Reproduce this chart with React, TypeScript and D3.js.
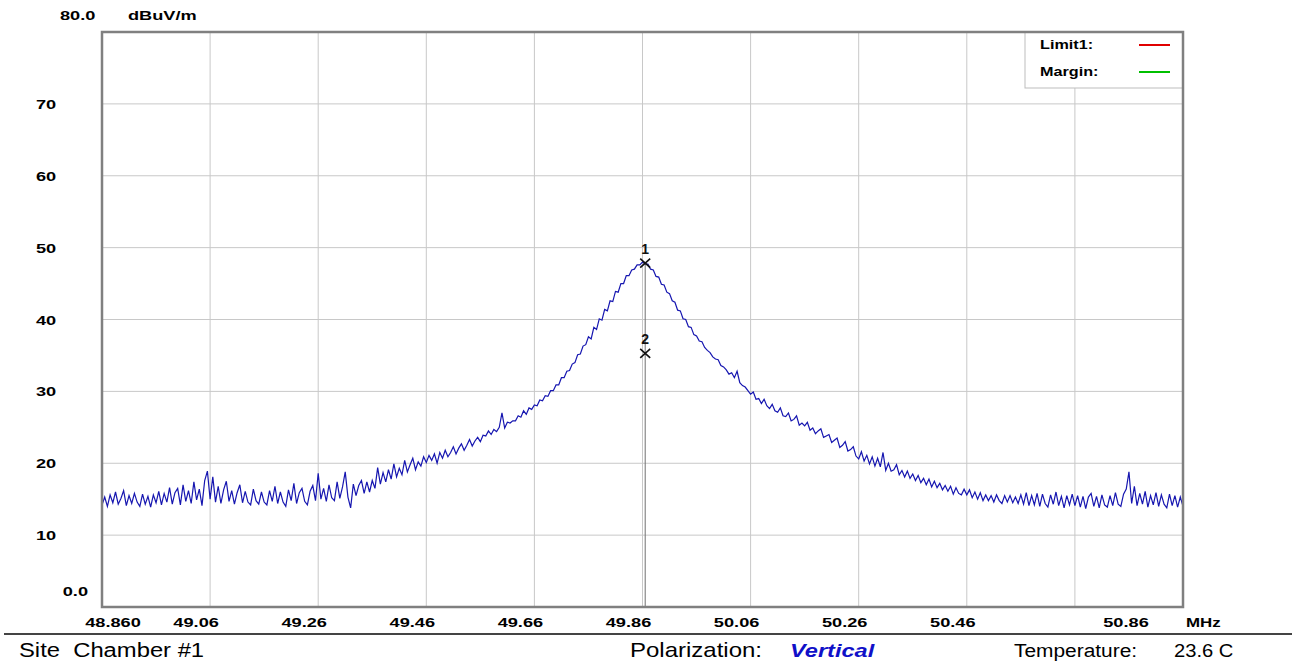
import React from 'react';
import * as d3 from 'd3';

// Sweep: start frequency and step (MHz)
const F_START = 48.86;
const F_STEP = 0.005;

const LEVELS: number[] = [
  14.2, 15.3, 14.0, 15.6, 14.5, 16.0, 14.3, 15.1, 16.2, 14.1, 15.5, 14.4, 15.8, 14.6, 14.0, 15.7, 14.3, 15.4, 13.9, 15.6,
  14.5, 16.1, 14.2, 15.8, 14.6, 16.6, 14.3, 15.9, 16.5, 14.2, 17.0, 14.7, 16.2, 14.4, 17.4, 14.9, 16.4, 14.1, 17.6, 18.9,
  15.0, 18.1, 14.6, 16.8, 14.4, 16.3, 17.5, 14.7, 16.2, 14.3, 15.9, 17.0, 14.5, 16.1, 14.6, 14.2, 16.4, 14.8, 14.3, 16.0,
  14.6, 14.2, 16.2, 14.7, 16.8, 14.4, 16.0, 14.6, 14.0, 16.3, 14.8, 17.2, 14.4, 15.9, 16.5, 14.7, 14.2, 16.1, 16.9, 14.8,
  18.6, 15.0, 16.5, 14.7, 17.0, 15.2, 14.8, 17.4, 15.1, 16.7, 18.8, 15.3, 13.8, 17.1, 15.5, 16.9, 17.6, 15.8, 17.4, 16.0,
  17.6, 16.5, 19.4, 17.1, 18.7, 17.4, 19.1, 17.8, 19.9, 18.1, 19.3, 18.4, 20.4, 18.8, 19.8, 20.7, 19.1, 20.2, 19.6, 20.9,
  20.1, 21.1, 20.4, 21.3, 20.0, 21.5, 20.7, 21.8, 20.9, 21.5, 22.3, 21.3, 22.1, 22.7, 21.8, 22.5, 23.3, 22.4, 23.1, 23.6,
  23.0, 23.9, 23.8, 24.5, 24.0, 24.7, 24.4, 25.0, 27.0, 24.9, 25.7, 25.6, 25.9, 25.9, 26.6, 26.4, 27.3, 26.8, 27.7, 27.5,
  28.1, 28.0, 28.8, 28.7, 29.4, 29.3, 30.1, 30.1, 30.9, 30.9, 31.9, 31.9, 32.8, 32.9, 33.8, 34.0, 35.1, 35.2, 36.3, 36.5,
  37.6, 37.3, 38.9, 38.6, 40.1, 39.9, 41.4, 41.2, 42.6, 42.5, 43.9, 43.8, 45.0, 45.0, 46.1, 46.1, 46.9, 47.0, 47.6, 47.6,
  48.0, 47.7, 47.7, 47.0, 46.9, 46.0, 45.9, 44.9, 44.8, 43.8, 43.6, 42.6, 42.4, 41.3, 41.2, 40.1, 40.0, 39.0, 38.9, 37.9,
  37.7, 37.0, 36.9, 36.1, 35.7, 35.4, 34.8, 34.5, 34.4, 33.6, 33.4, 33.0, 32.4, 32.6, 31.9, 32.8, 31.2, 30.8, 30.6, 30.1,
  29.6, 29.9, 28.9, 29.0, 28.3, 28.9, 28.0, 27.6, 28.2, 27.3, 27.1, 27.7, 26.6, 26.5, 27.0, 25.9, 26.1, 26.6, 25.3, 25.6,
  25.2, 25.7, 24.6, 24.9, 24.1, 24.5, 24.8, 23.6, 23.8, 24.0, 22.9, 23.2, 23.5, 22.2, 22.5, 23.0, 21.7, 21.9, 22.3, 21.0,
  20.6, 21.6, 20.3, 21.1, 19.9, 20.9, 19.6, 20.7, 19.5, 21.5, 19.0, 20.0, 18.9, 19.1, 19.8, 18.4, 19.0, 18.1, 18.9, 17.9,
  18.5, 17.6, 18.3, 17.3, 17.9, 17.0, 17.8, 16.7, 17.5, 16.6, 17.2, 16.3, 16.9, 16.1, 16.8, 15.7, 16.6, 15.8, 15.6, 16.4,
  15.6, 16.3, 15.2, 16.0, 15.0, 15.9, 14.8, 15.6, 14.8, 15.5, 14.6, 15.6, 14.8, 14.4, 15.5, 14.6, 15.5, 14.5, 15.3, 14.4,
  15.6, 14.3, 15.9, 14.1, 15.5, 14.2, 15.8, 14.0, 15.7, 14.4, 13.9, 15.6, 14.3, 16.0, 14.1, 15.4, 13.8, 15.5, 14.2, 15.7,
  14.1, 15.5, 13.9, 15.4, 13.7, 15.3, 15.8, 14.0, 15.4, 13.8, 15.6, 14.2, 13.9, 15.5, 14.1, 15.9, 14.3, 14.0, 15.7, 16.4,
  18.8, 14.4, 16.8, 14.1, 15.8, 14.3, 16.1, 13.9, 15.5, 14.2, 15.9, 14.0, 15.6, 14.3, 13.8, 15.7, 14.1, 15.5, 13.9, 15.3,
  14.0,
];

const X_DOMAIN: [number, number] = [48.86, 50.86];
const Y_DOMAIN: [number, number] = [0, 80];
const X_GRID = [49.06, 49.26, 49.46, 49.66, 49.86, 50.06, 50.26, 50.46, 50.66];
const X_LABELS = [49.06, 49.26, 49.46, 49.66, 49.86, 50.06, 50.26, 50.46];
const Y_GRID = [10, 20, 30, 40, 50, 60, 70];
const Y_LABELS = [10, 20, 30, 40, 50, 60, 70];

const MARKERS = [
  { id: '1', f: 49.865, v: 47.85 },
  { id: '2', f: 49.865, v: 35.3 },
];

const LEGEND = [
  { label: 'Limit1:', color: '#e00000' },
  { label: 'Margin:', color: '#00c000' },
];

const FOOTER = {
  site: 'Site  Chamber #1',
  polLabel: 'Polarization:',
  polValue: 'Vertical',
  tempLabel: 'Temperature:',
  tempValue: '23.6 C',
};

const W = 1292;
const H = 665;
const M = { left: 102, right: 1183, top: 32, bottom: 607 };

const AXIS_FONT = '"Liberation Sans", Arial, sans-serif';

function SText(props: {
  x: number;
  y: number;
  sx?: number;
  size: number;
  weight?: string | number;
  anchor?: 'start' | 'middle' | 'end';
  fill?: string;
  italic?: boolean;
  children: React.ReactNode;
}) {
  const { x, y, sx = 1, size, weight = 'normal', anchor = 'start', fill = '#000', italic } = props;
  return (
    <text
      transform={`translate(${x},${y}) scale(${sx},1)`}
      fontFamily={AXIS_FONT}
      fontSize={size}
      fontWeight={weight}
      fontStyle={italic ? 'italic' : 'normal'}
      textAnchor={anchor}
      fill={fill}
      style={{ whiteSpace: 'pre' }}
    >
      {props.children}
    </text>
  );
}

export default function App() {
  const x = d3.scaleLinear().domain(X_DOMAIN).range([M.left, M.right]);
  const y = d3.scaleLinear().domain(Y_DOMAIN).range([M.bottom, M.top]);

  const pts: [number, number][] = LEVELS.map((v, i) => [F_START + i * F_STEP, v]);
  const line = d3
    .line<[number, number]>()
    .x((d) => x(d[0]))
    .y((d) => y(d[1]));

  const sx = 1.4;
  const legendX0 = 1025;
  const legendY1 = 88;

  return (
    <svg
      width={W}
      height={H}
      style={{ position: 'absolute', left: 0, top: 0, background: '#fff' }}
    >
      <rect x={0} y={0} width={W} height={H} fill="#fff" />

      {/* grid */}
      {X_GRID.map((f) => (
        <line key={'gx' + f} x1={x(f)} x2={x(f)} y1={M.top} y2={M.bottom} stroke="#c8c8c8" strokeWidth={1} />
      ))}
      {Y_GRID.map((v) => (
        <line key={'gy' + v} x1={M.left} x2={M.right} y1={y(v)} y2={y(v)} stroke="#c8c8c8" strokeWidth={1} />
      ))}

      {/* trace */}
      <path d={line(pts) || ''} fill="none" stroke="#1616b0" strokeWidth={1.2} />

      {/* marker line */}
      <line
        x1={x(MARKERS[0].f)}
        x2={x(MARKERS[0].f)}
        y1={y(MARKERS[0].v)}
        y2={M.bottom}
        stroke="#707070"
        strokeWidth={1}
      />
      {MARKERS.map((m) => {
        const cx = x(m.f);
        const cy = y(m.v);
        return (
          <g key={m.id}>
            <line x1={cx - 5} x2={cx + 5} y1={cy - 4.5} y2={cy + 4.5} stroke="#111" strokeWidth={1.6} />
            <line x1={cx - 5} x2={cx + 5} y1={cy + 4.5} y2={cy - 4.5} stroke="#111" strokeWidth={1.6} />
            <SText x={cx} y={cy - 9} size={14} anchor="middle" fill="#111" weight={600}>
              {m.id}
            </SText>
          </g>
        );
      })}

      {/* legend */}
      <rect
        x={legendX0}
        y={M.top}
        width={M.right - legendX0}
        height={legendY1 - M.top}
        fill="#fff"
        stroke="#bdbdbd"
        strokeWidth={1}
      />
      {LEGEND.map((l, i) => {
        const ly = 45 + i * 27;
        return (
          <g key={l.label}>
            <SText x={1040} y={ly + 4} size={12} weight="bold" sx={1.35}>
              {l.label}
            </SText>
            <line x1={1139} x2={1170} y1={ly} y2={ly} stroke={l.color} strokeWidth={2} />
          </g>
        );
      })}

      {/* plot border */}
      <rect
        x={M.left}
        y={M.top}
        width={M.right - M.left}
        height={M.bottom - M.top}
        fill="none"
        stroke="#808080"
        strokeWidth={2.5}
      />

      {/* y labels */}
      <SText x={60} y={20} size={13} weight="bold" sx={sx}>
        {d3.format('.1f')(Y_DOMAIN[1])}
      </SText>
      <SText x={128} y={20} size={13} weight="bold" sx={sx}>
        dBuV/m
      </SText>
      {Y_LABELS.map((v) => (
        <SText key={'yl' + v} x={36} y={y(v) + 5} size={13} weight="bold" sx={sx}>
          {String(v)}
        </SText>
      ))}
      <SText x={88} y={y(0) - 11} size={13} weight="bold" sx={sx} anchor="end">
        {d3.format('.1f')(Y_DOMAIN[0])}
      </SText>

      {/* x labels */}
      <SText x={x(X_DOMAIN[0]) + 11} y={627} size={13} weight="bold" sx={sx} anchor="middle">
        {d3.format('.3f')(X_DOMAIN[0])}
      </SText>
      {X_LABELS.map((f) => (
        <SText key={'xl' + f} x={x(f) - 14} y={627} size={13} weight="bold" sx={sx} anchor="middle">
          {d3.format('.2f')(f)}
        </SText>
      ))}
      <SText x={x(X_DOMAIN[1]) - 57} y={627} size={13} weight="bold" sx={sx} anchor="middle">
        {d3.format('.2f')(X_DOMAIN[1])}
      </SText>
      <SText x={1186} y={627} size={13} weight="bold" sx={1.3}>
        MHz
      </SText>

      {/* footer */}
      <line x1={4} x2={W} y1={634} y2={634} stroke="#444" strokeWidth={2} />
      <SText x={19} y={657} size={20} sx={1.19}>
        {FOOTER.site}
      </SText>
      <SText x={630} y={657} size={20} sx={1.2}>
        {FOOTER.polLabel}
      </SText>
      <SText x={790} y={657} size={19} weight="bold" italic fill="#1010c8" sx={1.24}>
        {FOOTER.polValue}
      </SText>
      <SText x={1014} y={657} size={19} sx={1.1}>
        {FOOTER.tempLabel}
      </SText>
      <SText x={1174} y={657} size={18} sx={1.12}>
        {FOOTER.tempValue}
      </SText>
    </svg>
  );
}
